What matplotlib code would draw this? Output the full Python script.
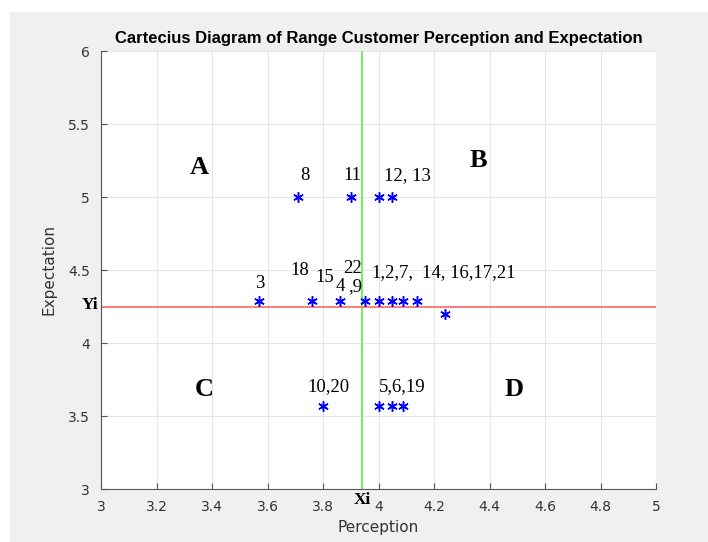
import matplotlib.pyplot as plt
from matplotlib.patches import Rectangle

perc = [3.71, 3.90, 4.00, 4.05,
        3.57, 3.76, 3.86, 3.95, 4.00, 4.05, 4.09, 4.14, 4.24,
        3.80, 4.00, 4.05, 4.09]
expec = [5.00, 5.00, 5.00, 5.00,
         4.29, 4.29, 4.29, 4.29, 4.29, 4.29, 4.29, 4.29, 4.20,
         3.57, 3.57, 3.57, 3.57]
xi = 3.94
yi = 4.25

# rótulos dos pontos (texto, x, y)
rotulos = [("8", 3.735, 5.15), ("11", 3.905, 5.15), ("12, 13", 4.105, 5.15),
           ("3", 3.573, 4.41), ("18", 3.717, 4.50), ("15", 3.806, 4.45),
           ("4", 3.862, 4.385), ("22", 3.905, 4.51), (",9", 3.915, 4.385),
           ("1,2,7,", 4.05, 4.48), ("14, 16,17,21", 4.326, 4.48),
           ("10,20", 3.82, 3.70), ("5,6,19", 4.085, 3.70)]
quadrantes = [("A", 3.353, 5.205), ("B", 4.359, 5.25), ("C", 3.371, 3.68), ("D", 4.488, 3.68)]

fig = plt.figure(figsize=(7.08, 5.42), dpi=100)
fig.patches.append(Rectangle((10/708, 0), 1, 1 - 12/542, transform=fig.transFigure,
                             facecolor="#f0f0f0", edgecolor="none", zorder=-10))
ax = fig.add_axes([101/708, 1 - 489/542, 555/708, 438/542])

ax.axvline(xi, color="#66ee55", lw=1.3, zorder=2)
ax.axhline(yi, color="#ff7070", lw=1.3, zorder=2)
ax.plot(perc, expec, linestyle="none", marker=(6, 2, 0), color="blue",
        markersize=7.5, markeredgewidth=1.1, zorder=3)

for txt, x, y in rotulos:
    ax.text(x, y, txt, family="Liberation Serif", fontsize=13.5, ha="center", va="center")
for txt, x, y in quadrantes:
    ax.text(x, y, txt, family="Liberation Serif", fontsize=19, fontweight="bold",
            ha="center", va="center")

ax.text(xi, 2.925, "Xi", family="Liberation Serif", fontsize=12.5, fontweight="bold",
        ha="center", va="center")
ax.text(2.99, 4.26, "Yi", family="Liberation Serif", fontsize=12.5, fontweight="bold",
        ha="right", va="center")

ax.set_xlim(3, 5)
ax.set_ylim(3, 6)
ax.set_xticks([3, 3.2, 3.4, 3.6, 3.8, 4, 4.2, 4.4, 4.6, 4.8, 5])
ax.set_xticklabels(["3", "3.2", "3.4", "3.6", "3.8", "4", "4.2", "4.4", "4.6", "4.8", "5"])
ax.set_yticks([3, 3.5, 4, 4.5, 5, 5.5, 6])
ax.set_yticklabels(["3", "3.5", "4", "4.5", "5", "5.5", "6"])
ax.grid(True, color="#e6e6e6", lw=0.8)
ax.set_axisbelow(True)
for s in ["top", "right"]:
    ax.spines[s].set_visible(False)
for s in ["left", "bottom"]:
    ax.spines[s].set_color("#555555")
ax.tick_params(direction="in", colors="#555555", labelsize=10, length=4, pad=8)
for t in ax.get_xticklabels() + ax.get_yticklabels():
    t.set_color("#333333")

ax.set_title("Cartecius Diagram of Range Customer Perception and Expectation",
             fontsize=12, fontweight="bold", family="Liberation Sans", pad=6)
ax.set_xlabel("Perception", fontsize=11, color="#333333", labelpad=4)
ax.set_ylabel("Expectation", fontsize=11, color="#333333", labelpad=8)

plt.savefig("out.png", dpi=100)
plt.close()
